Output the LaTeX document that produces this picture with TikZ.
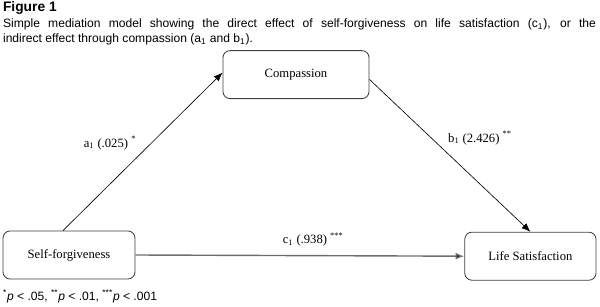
\documentclass[tikz,border=0pt]{standalone}
\usepackage{fontspec}
\setmainfont{Liberation Serif}
\newfontfamily\capfont{Liberation Sans}
\usepackage{xcolor}
\usepackage{tikz}
\usetikzlibrary{arrows.meta,positioning,calc}
\definecolor{BoxGrey}{HTML}{404040}
\definecolor{PathGrey}{HTML}{6E6E6E}

\begin{document}
\begin{tikzpicture}[font=\fontsize{9}{11}\selectfont,
  var/.style={draw=BoxGrey, fill=white, rounded corners=5pt, line width=0.6pt,
              minimum height=12mm, align=center},
  ar/.style={-{Latex[length=2.2mm,width=1.7mm]}, line width=0.45pt, black},
  captxt/.style={font=\capfont\fontsize{8.6}{10.9}\selectfont, inner sep=0pt}]
\useasboundingbox (0,0) rectangle (15,7.675);

\node[captxt, anchor=west, font=\capfont\fontsize{9.8}{11}\selectfont] (fig) at (0.07,7.47) {\textbf{Figure 1}};
\node[captxt, anchor=north west, text width=14.82cm, align=justify] (caption) at (0.07,7.21)
  {Simple mediation model showing the direct effect of self-forgiveness on life satisfaction (c\textsubscript{1}), or the\linebreak
   indirect effect through compassion (a\textsubscript{1} and b\textsubscript{1}).};

\node[var, minimum width=36.5mm] (comp) at (7.40,5.81) {Compassion};
\node[var, minimum width=33mm] (selff) at (1.725,1.30) {Self-forgiveness};
\node[var, minimum width=32.8mm] (lifes) at (13.26,1.27) {Life Satisfaction};

\draw[ar] ([xshift=-1.5mm]selff.north) -- ([yshift=0.5mm]comp.west);
\draw[ar] ([yshift=-1.2mm]comp.east) -- (lifes.north);
\draw[-{Latex[length=2.2mm,width=1.7mm,fill=black]}, PathGrey, line width=1pt] (selff.east) -- (lifes.west);

\node (alab) at (2.75,4.10) {a\textsubscript{1} (.025) \textsuperscript{*}};
\node (blab) at (12.0,4.22) {b\textsubscript{1} (2.426) \textsuperscript{**}};
\node (clab) at (7.83,1.68) {c\textsubscript{1} (.938) \textsuperscript{***}};

\node[captxt, anchor=west] (note) at (0.07,0.27)
  {\textsuperscript{*}\textit{p} < .05, \textsuperscript{**}\textit{p} < .01, \textsuperscript{***}\textit{p} < .001};
\end{tikzpicture}
\end{document}
